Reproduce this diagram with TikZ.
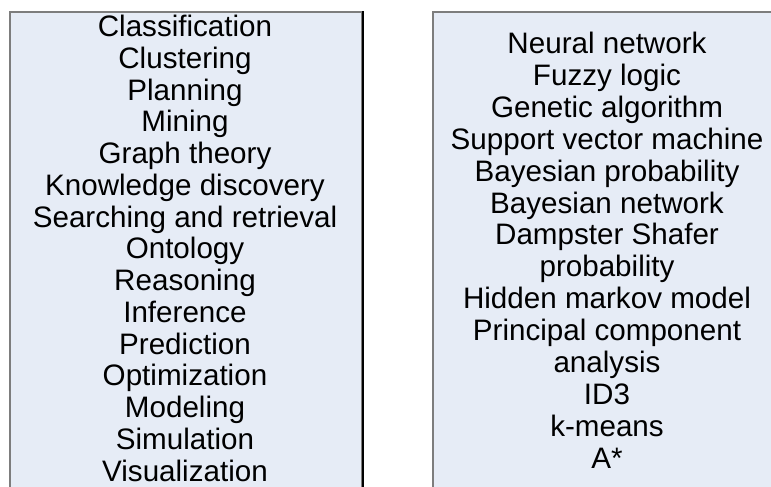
\documentclass[tikz,border=0pt]{standalone}
\usepackage{fontspec}
\setmainfont{Liberation Sans}
\definecolor{panelfill}{RGB}{230,236,246}
\definecolor{paneledge}{RGB}{125,125,125}
\begin{document}
\begin{tikzpicture}[x=1pt,y=-1pt,
  panel/.style={draw=paneledge, line width=1.6pt, fill=panelfill,
    rectangle, inner sep=0pt},
  item/.style={inner sep=0pt, anchor=base, text=black,
    font=\fontsize{29.6}{32}\selectfont}]
\useasboundingbox (0,0) rectangle (771,487);
\clip (0,0) rectangle (771,487);

% the two panels run past the lower (and right) edge of the page
\node[panel, minimum width=352pt, minimum height=508pt] (leftpanel) at (186,266) {};
\draw[black, line width=1.6pt] (leftpanel.north east) -- (leftpanel.south east);
\node[panel, minimum width=367pt, minimum height=508pt] (rightpanel) at (616.5,266) {};

% tasks
\foreach \t [count=\i from 0] in {Classification, Clustering, Planning, Mining,
    Graph theory, Knowledge discovery, Searching and retrieval, Ontology,
    Reasoning, Inference, Prediction, Optimization, Modeling, Simulation,
    Visualization}
  \node[item] (task\i) at (185,{36.5+31.75*\i}) {\t};

% techniques
\foreach \t [count=\i from 0] in {Neural network, Fuzzy logic, Genetic algorithm,
    Support vector machine, Bayesian probability, Bayesian network,
    Dampster Shafer, probability, Hidden markov model, Principal component,
    analysis, ID3, k-means, A*}
  \node[item] (tech\i) at (607,{53.5+31.9*\i}) {\t};
\end{tikzpicture}
\end{document}
